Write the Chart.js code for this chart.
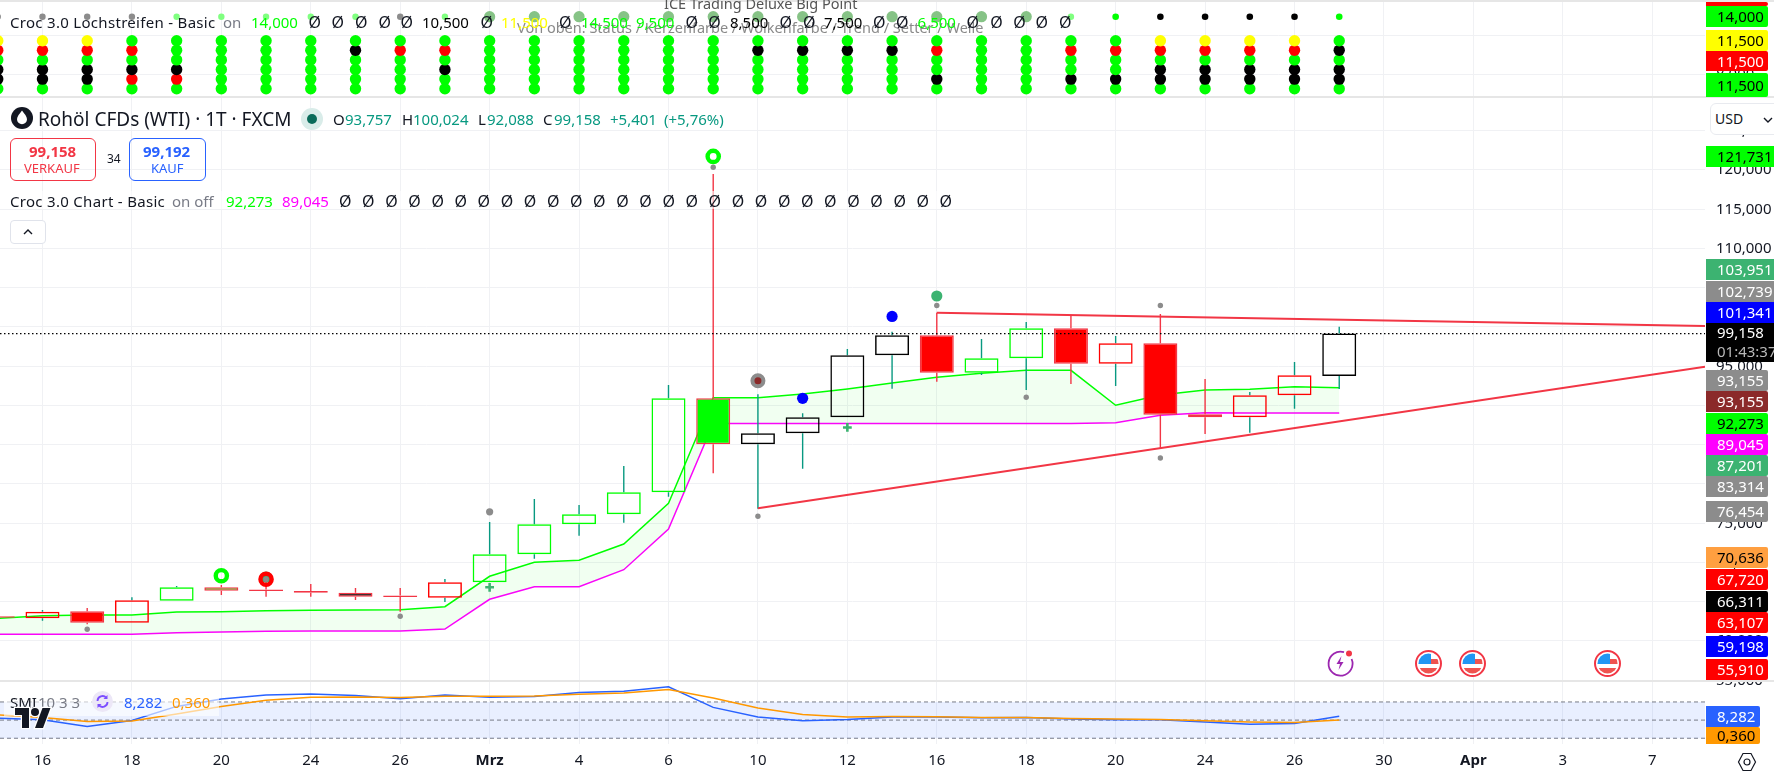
<!doctype html>
<html lang="de">
<head>
<meta charset="utf-8">
<title>Rohöl CFDs (WTI) · 1T · FXCM</title>
<script src="https://cdn.jsdelivr.net/npm/chart.js@4"></script>
<style>
html,body{margin:0;padding:0;background:#fff}
#wrap{position:relative;width:1774px;height:776px;overflow:hidden;font-family:"Noto Sans",sans-serif;font-size:15px;color:#131722}
#c{position:absolute;left:0;top:0}
.t{position:absolute;white-space:nowrap;line-height:20px;height:20px;transform:translateY(-50%)}
.box{position:absolute;box-sizing:border-box}
.tag{position:absolute;left:1706px;padding-left:11px;box-sizing:border-box;white-space:nowrap;overflow:hidden}
svg{position:absolute;overflow:visible}
</style>
</head>
<body>
<div id="wrap"><canvas id="c" width="1774" height="776"></canvas></div>
<script>
'use strict';
// WTI Tageskerzen, Index -1 = Bar links am Rand, 29 = letzte Kerze (27. Mrz)
const dateTicks = ['16', '18', '20', '24', '26', 'Mrz', '4', '6', '10', '12', '16', '18', '20', '24', '26', '30', 'Apr', '3', '7'];
const priceTicks = [125000, 120000, 115000, 110000, 105000, 100000, 95000, 90000, 85000, 80000, 75000, 70000, 65000, 60000, 55000];
const stripTicks = [12000, 8000];
const opens = [63150, 62891, 63783, 62330, 65133, 66840, 66547, 66369, 66153, 65783, 65515, 67477, 71044, 74866, 76140, 78942, 90917, 85057, 86458, 88497, 96395, 98942, 94178, 96012, 99834, 95324, 97923, 88879, 88497, 91299, 93757];
const highs = [63150, 63948, 64203, 65566, 67006, 67133, 67515, 67261, 66751, 66751, 67897, 75159, 78089, 77324, 82293, 92611, 119490, 91427, 89006, 97197, 99401, 101821, 98471, 100637, 101528, 98853, 101656, 93375, 91719, 95541, 100024];
const lows = [62960, 62585, 62127, 62330, 65133, 65859, 65643, 65643, 65222, 63732, 64968, 67477, 70483, 73413, 75070, 78382, 81363, 76853, 81949, 88497, 92140, 93032, 93885, 91974, 92739, 92484, 84547, 86369, 86535, 89592, 92088];
const closes = [62960, 63732, 62330, 65184, 66840, 66407, 66369, 66153, 65643, 65604, 67477, 71044, 74866, 76140, 78942, 90917, 85057, 86458, 88497, 96395, 98942, 94178, 96012, 99834, 95324, 97923, 88828, 88497, 91299, 93847, 99158];
// Kerzenfarbe: Füllung / Rand (n = hohl)
const bodyFill = ['n', 'n', 'r', 'n', 'n', 'g', 'n', 'r', 'k', 'n', 'n', 'n', 'n', 'n', 'n', 'n', 'g', 'n', 'n', 'n', 'n', 'r', 'n', 'n', 'r', 'n', 'r', 'r', 'n', 'n', 'n'];
const bodyEdge = ['p', 'r', 'p', 'r', 'g', 'p', 'p', 'p', 'p', 'p', 'r', 'g', 'g', 'g', 'g', 'g', 'p', 'k', 'k', 'k', 'k', 'p', 'g', 'g', 'p', 'r', 'p', 'p', 'r', 'r', 'k'];
const cloudUpper = [62891, 63222, 63311, 63311, 63694, 63732, 63859, 63910, 63948, 63987, 64369, 68241, 70025, 70280, 72356, 77541, 90994, 90994, 91465, 92102, 92866, 93592, 94102, 94484, 94484, 90025, 91337, 91974, 92064, 92394, 92273];
const cloudLower = [60853, 60853, 60853, 60853, 61057, 61146, 61235, 61273, 61273, 61273, 61528, 65312, 66917, 66917, 69082, 74267, 87707, 87707, 87707, 87707, 87707, 87707, 87707, 87707, 87707, 87808, 88751, 89082, 89045, 89045, 89045];
const lastPrice = 99158;
const trendHighX = [20, 37.18], trendHighY = [101821, 100127];
const trendLowX = [16, 37.18], trendLowY = [76904, 94942];
// Signalpunkte [Index, Preis]
const greyDots = [[1, 61490], [8, 63146], [10, 76454], [15, 120344], [16, 75885], [20, 102739], [22, 91044], [25, 102739], [25, 83314], [5, 67858]];
const limeRings = [[4, 68317], [15, 121731]];
const redRings = [[5, 67858]];
const seaDots = [[5, 68152], [20, 103951]];
const blueDots = [[17, 90917], [19, 101341]];
const targetDots = [[16, 93155]];
const plusMarks = [[10, 66840], [18, 87201]];
// SMI 10 3 3
const smiLine = [4.4, 0.7, -14.2, -0.9, 30.2, 46.7, 55.6, 57.8, 54, 47.3, 55.6, 50.2, 51.8, 60.7, 63.6, 73.3, 28, 6.7, -1.6, 1.3, 6.7, 6.7, 5.1, 5.8, 2.2, 0.7, 0.7, -4.4, -8.9, -7.6, 8.282];
const smiSignal = [11.8, 5.8, -3.1, -2.2, 13.3, 30.2, 43.6, 50.2, 51.1, 49.6, 52.4, 52.4, 53.3, 56.9, 60, 67.3, 48.9, 26.7, 12.4, 6.7, 8, 7.3, 5.8, 5.8, 3.6, 2.2, 1.3, -1.6, -4.4, -5.3, 0.36];
const smiLevels = [40, 0, -40];
// Lochstreifen: Zeilenwerte und je Bar ein Farbcode pro Zeile
const stripValues = [11500, 10500, 9500, 8500, 7500, 6500];
const stripTopValue = 14000;
const stripCodes = ['yrgkkg', 'yrgkkg', 'yrgkkg', 'grgkrg', 'gggkrg', 'gggggg', 'gggggg', 'gggggg', 'gkgggg', 'grgggg', 'grgkgg', 'gggggg', 'gggggg', 'gggggg', 'gggggg', 'gggggg', 'gggggg', 'gkgggg', 'gkgggg', 'gkgggg', 'gkgggg', 'grggkg', 'gggggg', 'gggggg', 'grggkg', 'grggkg', 'yrgkkg', 'yrgkkg', 'yrgkkg', 'yrgkkg', 'gkgkkg'];
const stripTopCodes = 'zzzzlllllzlppppppppppppplGkkkkG';

const barIdx = opens.map((_, i) => i - 1);
const X_MIN = -0.95, X_MAX = 37.18;
const pts = (xs, ys) => xs.map((x, i) => ({ x, y: ys[i] }));
const pairs = a => a.map(([x, y]) => ({ x, y }));
const de3 = v => (v / 1000).toFixed(3).replace('.', ',');

const C = { n: 'rgba(0,0,0,0)', r: '#ff0000', p: '#f23645', g: '#00ff00', k: '#000000', y: '#ffff00' };
const TEAL = '#089981', GRID = '#f0f1f4', FONT = '"Noto Sans",sans-serif';
const TOP_C = { z: '#8c8c8c', l: '#80ff80', p: '#86c386', G: '#00ff00', k: '#000000' };
const TOP_R = { z: 3.2, l: 3.2, p: 5.6, G: 3.3, k: 3.3 };

const dotSet = (data, radius, bg, extra) => Object.assign({ type: 'scatter', data: pairs(data), xAxisID: 'x', yAxisID: 'y', pointRadius: radius, pointBackgroundColor: bg, pointBorderWidth: 0 }, extra || {});
const lineSet = (data, color, width, yId, extra) => Object.assign({ type: 'line', data, xAxisID: 'x', yAxisID: yId, borderColor: color, borderWidth: width, pointRadius: 0, tension: 0, fill: false }, extra || {});

const wickUp = [], wickDn = [];
opens.forEach((o, i) => {
  const c = closes[i], top = Math.max(o, c), bot = Math.min(o, c);
  if (highs[i] > top) wickUp.push({ x: barIdx[i], y: [top, highs[i]], c: c > o ? TEAL : C.p });
  if (lows[i] < bot) wickDn.push({ x: barIdx[i], y: [lows[i], bot], c: c > o ? TEAL : C.p });
});
const barCommon = { type: 'bar', xAxisID: 'x', yAxisID: 'y', grouped: false, categoryPercentage: 1, borderSkipped: false };

const datasets = [
  // erstes Dataset liegt oben
  lineSet(pts([X_MIN, X_MAX], [lastPrice, lastPrice]), '#000', 1.2, 'y', { borderDash: [1.5, 2.5] }),
  lineSet(pts(trendHighX, trendHighY), C.p, 2, 'y'),
  lineSet(pts(trendLowX, trendLowY), C.p, 2, 'y'),
  dotSet(greyDots, (c) => (c.raw && c.raw.x === 10 ? 3.6 : 2.7), '#8c8c8c'),
  dotSet(limeRings, 5.6, 'rgba(0,0,0,0)', { pointBorderWidth: 4.4, pointBorderColor: '#00ff00' }),
  dotSet(redRings, 5.6, 'rgba(0,0,0,0)', { pointBorderWidth: 4.4, pointBorderColor: '#ff0000' }),
  dotSet(seaDots, 5.6, '#3cb371'),
  dotSet(blueDots, 5.6, '#0000ff'),
  dotSet(targetDots, 5.5, '#8b2a2a', { pointBorderWidth: 4, pointBorderColor: '#8c8c8c' }),
  dotSet(plusMarks, 4.4, '#3cb371', { pointStyle: 'cross', pointBorderWidth: 2.6, pointBorderColor: '#3cb371' }),
  Object.assign({}, barCommon, {
    label: 'Kerzen', data: opens.map((o, i) => ({ x: barIdx[i], y: [Math.min(o, closes[i]), Math.max(o, closes[i])] })),
    barPercentage: 34 / 44.71, borderWidth: 1.5, inflateAmount: 0,
    backgroundColor: bodyFill.map(k => C[k]), borderColor: bodyEdge.map(k => C[k]),
  }),
  Object.assign({}, barCommon, { label: 'Docht oben', data: wickUp, barPercentage: 1.4 / 44.71, borderWidth: 0, inflateAmount: 0, backgroundColor: wickUp.map(w => w.c) }),
  Object.assign({}, barCommon, { label: 'Docht unten', data: wickDn, barPercentage: 1.4 / 44.71, borderWidth: 0, inflateAmount: 0, backgroundColor: wickDn.map(w => w.c) }),
  lineSet(pts(barIdx, cloudUpper), '#00ff00', 1.5, 'y', { fill: { target: '+1', above: 'rgba(0,255,0,0.055)', below: 'rgba(0,255,0,0.055)' } }),
  lineSet(pts(barIdx, cloudLower), '#ff00ff', 1.5, 'y'),
  // SMI
  lineSet(pts(barIdx, smiSignal), '#ff9800', 1.5, 'ySmi'),
  lineSet(pts(barIdx, smiLine), '#2962ff', 1.5, 'ySmi'),
  lineSet(pts([X_MIN, X_MAX], [smiLevels[1], smiLevels[1]]), '#787b86', 1, 'ySmi', { borderDash: [4, 3] }),
  lineSet(pts([X_MIN, X_MAX], [smiLevels[0], smiLevels[0]]), '#787b86', 1, 'ySmi', { borderDash: [4, 3], fill: { target: '+1', above: 'rgba(41,98,255,0.1)', below: 'rgba(41,98,255,0.1)' } }),
  lineSet(pts([X_MIN, X_MAX], [smiLevels[2], smiLevels[2]]), '#787b86', 1, 'ySmi', { borderDash: [4, 3] }),
  // Lochstreifen
  dotSet(barIdx.map((x, i) => [x, stripTopValue]), 3, barIdx.map((x, i) => TOP_C[stripTopCodes[i]]), { yAxisID: 'yTop', pointRadius: barIdx.map((x, i) => TOP_R[stripTopCodes[i]]) }),
];
stripValues.forEach((v, r) => datasets.push(dotSet(barIdx.map(x => [x, v]), 5.7, stripCodes.map(code => C[code[r]]), { yAxisID: 'yTop' })));

const fitY = s => { s.width = 69; s.paddingTop = 0; s.paddingBottom = 0; };
const yTicks = { color: '#131722', font: { family: FONT, size: 15 }, crossAlign: 'near', padding: 11, autoSkip: false, callback: de3 };
const fixedTicks = list => s => { s.ticks = list.map(value => ({ value })); };

new Chart(document.getElementById('c'), {
  type: 'line',
  data: { datasets },
  options: {
    responsive: false, animation: false, events: [],
    layout: { padding: 0, autoPadding: false },
    plugins: { legend: { display: false }, tooltip: { enabled: false } },
    scales: {
      x: {
        type: 'linear', position: 'bottom', min: X_MIN, max: X_MAX, offset: false,
        afterBuildTicks: s => { s.ticks = dateTicks.map((_, i) => ({ value: i * 2 })); },
        afterFit: s => { s.height = 32.4; s.paddingLeft = 0; s.paddingRight = 0; },
        grid: { color: GRID, drawTicks: false, offset: false }, border: { display: false },
        ticks: {
          autoSkip: false, maxRotation: 0, padding: 8, color: '#131722',
          font: c => ({ family: FONT, size: 15, weight: isNaN(+dateTicks[c.index]) ? 'bold' : 'normal' }),
          callback: v => dateTicks[v / 2],
        },
      },
      yTop: {
        type: 'linear', position: 'right', stack: 'panes', stackWeight: 97, weight: 1, min: 5635, max: 15740,
        afterBuildTicks: fixedTicks(stripTicks), afterFit: fitY, grid: { color: GRID, drawTicks: false }, border: { display: false },
        ticks: yTicks,
      },
      y: {
        type: 'linear', position: 'right', stack: 'panes', stackWeight: 583.5, weight: 2, min: 54968, max: 129299, stacked: false,
        afterBuildTicks: fixedTicks(priceTicks), afterFit: fitY, grid: { color: GRID, drawTicks: false }, border: { display: false },
        ticks: yTicks,
      },
      ySmi: {
        type: 'linear', position: 'right', stack: 'panes', stackWeight: 63.1, weight: 3, min: -51.8, max: 87.3,
        afterFit: fitY, grid: { display: false }, border: { display: false },
        ticks: { display: false },
      },
    },
  },
});

// --- Overlay: Legenden, Preis-Labels, Icons (echter Text)
const wrap = document.getElementById('wrap');
function txt(x, y, s, color, size, extra) {
  const d = document.createElement('div');
  d.className = 't';
  d.textContent = s;
  d.style.cssText = `left:${x}px;top:${y}px;color:${color || '#131722'};font-size:${size || 15}px;${extra || ''}`;
  wrap.appendChild(d);
  return d;
}
function box(x, y, w, h, css) {
  const d = document.createElement('div');
  d.className = 'box';
  d.style.cssText = `left:${x}px;top:${y}px;width:${w}px;height:${h}px;${css}`;
  wrap.appendChild(d);
  return d;
}
function svg(x, y, w, h, vb, inner) {
  wrap.insertAdjacentHTML('beforeend', `<svg style="left:${x}px;top:${y}px" width="${w}" height="${h}" viewBox="${vb}">${inner}</svg>`);
}

box(0, 0, 1774, 2, 'background:#e6e6e6');
box(0, 96, 1774, 2, 'background:#e6e6e6');
box(0, 680, 1774, 2, 'background:#e6e6e6');

// Kopf Lochstreifen
txt(664, 3, 'ICE Trading Deluxe Big Point', '#555', 14.5);
txt(517, 27, 'Von oben: Status / Kerzenfarbe / Wolkenfarbe / Trend / Setter / Welle', '#8a8a8a', 14.5);
const SP = 'letter-spacing:.3px';
txt(10, 22, 'Croc 3.0 Lochstreifen - Basic', '#131722', 15, SP);
txt(223, 22, 'on', '#787b86');
const GR = '#00ff00', YL = '#ffff00', BK = '#000';
[[251, '14,000', GR], [422, '10,500', BK], [501, '11,500', YL], [581, '14,500', GR], [636, '9,500', GR], [730, '8,500', BK], [824, '7,500', BK], [917.6, '6,500', GR]].forEach(a => txt(a[0], 22, a[1], a[2]));
[314, 337, 360.5, 384, 406, 486, 564.5, 691, 713.7, 785, 808.6, 878.6, 901.6, 972, 995.7, 1018.7, 1041, 1064.6].forEach(x => txt(x - 5.5, 22, 'Ø', '#131722', 16));

// Titelzeile
svg(10, 107, 24, 22, '0 0 24 22', '<circle cx="12" cy="11" r="11" fill="#131722"/><path d="M12 3.5c2.5 3.5 5 5.800 5 8.800a5 5 0 0 1-10 0c0-3 2.500-5.300 5-8.800z" fill="#fff"/>');
txt(38, 119, 'Rohöl CFDs (WTI) · 1T · FXCM', '#131722', 19);
svg(301, 108, 22, 22, '0 0 22 22', '<circle cx="11" cy="11" r="11" fill="#d9ece9"/><circle cx="11" cy="11" r="5" fill="#0a6b5a"/>');
[[333, 'O', '#131722'], [345, '93,757', TEAL], [402, 'H', '#131722'], [413, '100,024', TEAL], [478, 'L', '#131722'], [487, '92,088', TEAL], [543, 'C', '#131722'], [554, '99,158', TEAL], [610, '+5,401', TEAL], [664, '(+5,76%)', TEAL]].forEach(a => txt(a[0], 119, a[1], a[2]));

// Kauf / Verkauf
box(10, 138, 86, 43, 'border:1px solid #f23645;border-radius:6px');
txt(29, 151, '99,158', '#f23645', 15, 'font-weight:700');
txt(24, 168, 'VERKAUF', '#f23645', 13);
txt(107, 159, '34', '#131722', 12);
box(129, 138, 77, 43, 'border:1px solid #2962ff;border-radius:6px');
txt(143, 151, '99,192', '#2962ff', 15, 'font-weight:700');
txt(151, 168, 'KAUF', '#2962ff', 13);

// Chart-Legende
box(4, 191, 950, 18, 'background:rgba(255,255,255,.6)');
txt(10, 201, 'Croc 3.0 Chart - Basic', '#131722', 15, SP);
txt(172, 201, 'on off', '#787b86');
txt(226, 201, '92,273', GR);
txt(282, 201, '89,045', '#ff00ff');
for (let i = 0; i < 27; i++) txt(344.5 + i * 23.1 - 5.5, 201, 'Ø', '#131722', 16);
box(10, 220, 36, 24, 'border:1px solid #e0e3eb;border-radius:4px;background:#fff');
svg(22, 228, 12, 8, '0 0 12 8', '<path d="M2 6l4-4 4 4" fill="none" stroke="#131722" stroke-width="1.4"/>');

// USD
box(1710, 103, 70, 32, 'border:1px solid #e8eaef;border-radius:6px;background:#fff');
txt(1715, 119, 'USD', '#131722', 14);
svg(1762, 116, 12, 8, '0 0 12 8', '<path d="M2 2l4 4 4-4" fill="none" stroke="#131722" stroke-width="1.4"/>');

// SMI Legende
box(4, 690, 215, 26, 'background:rgba(255,255,255,.6)');
txt(10, 702, 'SMI', '#131722');
txt(38, 702, '10 3 3', '#787b86');
svg(92, 691, 21, 21, '0 0 21 21', '<circle cx="10.5" cy="10.500" r="10.500" fill="#ece7f7"/><path d="M5.500 10a5 5 0 0 1 8.800-3.200M15.500 11a5 5 0 0 1-8.800 3.200" fill="none" stroke="#7c4dff" stroke-width="1.800"/><path d="M15.500 4v4h-4zM5.500 17v-4h4z" fill="#7c4dff"/>');
txt(124, 702, '8,282', '#2962ff');
txt(172, 702, '0,360', '#ff9800');
svg(14, 708, 38, 20, '0 0 36 20', '<g stroke="#fff" stroke-width="2.500" paint-order="stroke"><path d="M14 20H7V7H0V0h14z" fill="#131722"/><circle cx="20" cy="4" r="4" fill="#131722"/><path d="M28 20h-8l7.500-20h8z" fill="#131722"/></g>');

// Ereignisse
svg(1326, 649, 28, 28, '0 0 28 28', '<path d="M18 3.200A12 12 0 1 0 25.600 10" fill="none" stroke="#9c27b0" stroke-width="1.800"/><path d="M15.500 7l-5 8h3.500l-1.500 6 5-8h-3.500z" fill="#9c27b0"/><circle cx="23" cy="4.500" r="3" fill="#f23645"/>');
[1428, 1472.5, 1607].forEach(cx => svg(cx - 13.500, 649.5, 27, 27, '0 0 27 27',
  '<circle cx="13.500" cy="13.500" r="12.500" fill="#fff" stroke="#f23645" stroke-width="2"/><clipPath id="f"><circle cx="13.500" cy="13.500" r="10"/></clipPath><g clip-path="url(#f)"><rect x="3" y="3" width="22" height="21" fill="#fff"/><rect x="3" y="3" width="13" height="11" fill="#2196f3"/><rect x="16" y="9" width="10" height="5" fill="#ef5350"/><rect x="3" y="18" width="22" height="7" fill="#ef5350"/></g>'));

// Gear
svg(1738, 752, 18, 20, '0 0 18 20', '<path d="M5 1.500h8l4.500 8.500-4.500 8.500H5L.5 10z" fill="none" stroke="#131722" stroke-width="1.200"/><circle cx="9" cy="10" r="3" fill="none" stroke="#131722" stroke-width="1.200"/>');

// Preis-Labels auf der Achse
const WH = '#fff', GY = '#8c8c8c';
const priceTags = [
  ['', '#ff0000', WH, 2, 6, 1768], ['14,000', GR, BK, 6, 26.7, 1768], ['11,500', YL, BK, 30, 50.7, 1768], ['11,500', '#ff0000', WH, 50.7, 71.3, 1768], ['11,500', GR, BK, 73, 97, 1768],
  ['121,731', GR, BK, 146, 167, 1774],
  ['103,951', '#3cb371', WH, 259, 280, 1774], ['102,739', GY, WH, 281, 301.7, 1774], ['101,341', '#0000ff', WH, 302, 323, 1774],
  ['93,155', GY, WH, 370, 390.7, 1768], ['93,155', '#8b2a2a', WH, 391, 411.7, 1768], ['92,273', GR, BK, 412.7, 433.7, 1768], ['89,045', '#ff00ff', WH, 434, 455, 1768],
  ['87,201', '#3cb371', WH, 455, 476, 1768], ['83,314', GY, WH, 476.3, 497, 1768], ['76,454', GY, WH, 501, 522, 1768],
  ['70,636', '#ff9f40', BK, 547, 568, 1768], ['67,720', '#ff0000', WH, 569, 590, 1768], ['66,311', BK, WH, 590.7, 611.7, 1768], ['63,107', '#ff0000', WH, 612, 633, 1768],
  ['59,198', '#0000ff', WH, 636, 657, 1768], ['55,910', '#ff0000', WH, 659, 680, 1768],
  ['8,282', '#2962ff', WH, 706, 726.7, 1760], ['0,360', '#ff9800', BK, 727.3, 744, 1760],
];
priceTags.forEach(([s, bg, fg, t, b, r]) => {
  const d = document.createElement('div');
  d.className = 'tag';
  d.textContent = s;
  d.style.cssText = `top:${t}px;height:${b - t}px;width:${r - 1706}px;background:${bg};color:${fg};line-height:${b - t}px;border-radius:0 ${r < 1774 ? 2 : 0}px ${r < 1774 ? 2 : 0}px 0`;
  wrap.appendChild(d);
});
const last = document.createElement('div');
last.className = 'tag';
last.style.cssText = 'top:323.3px;height:38.4px;width:68px;background:#000;color:#fff;line-height:19px';
last.innerHTML = '99,158<br><span style="color:#b8b8b8">01:43:37</span>';
wrap.appendChild(last);
</script>
</body>
</html>
